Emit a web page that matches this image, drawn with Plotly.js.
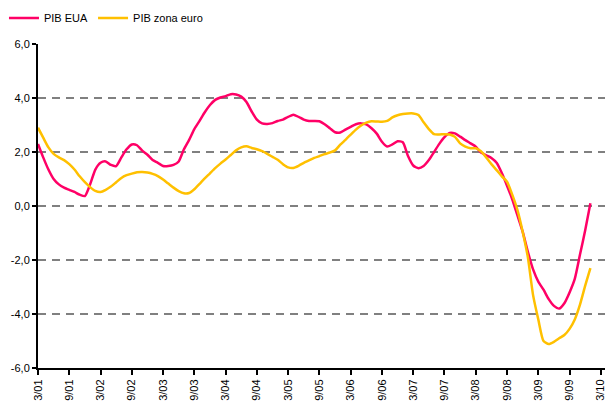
<!DOCTYPE html>
<html>
<head>
<meta charset="utf-8">
<script src="https://cdn.plot.ly/plotly-3.0.1.min.js"></script>
<style>html,body{margin:0;padding:0;background:#fff;}#chart{width:608px;height:405px;}</style>
</head>
<body>
<div id="chart"></div>
<script>
// Monthly observations, March 2001 to January 2010
var startYear = 2001, startMonth = 3;
var pibEUA = [
  2.3, 1.8, 1.35, 1.0, 0.8, 0.68, 0.6, 0.52, 0.42, 0.37, 0.8, 1.35,
  1.6, 1.65, 1.52, 1.48, 1.8, 2.1, 2.28, 2.25, 2.05, 1.9, 1.7, 1.6,
  1.48, 1.48, 1.52, 1.65, 2.1, 2.45, 2.85, 3.15, 3.47, 3.74, 3.93, 4.02,
  4.07, 4.14, 4.13, 4.05, 3.85, 3.5, 3.2, 3.06, 3.04, 3.07, 3.15, 3.2,
  3.3, 3.38, 3.3, 3.2, 3.15, 3.15, 3.14, 3.03, 2.88, 2.73, 2.72, 2.83,
  2.93, 3.03, 3.06, 3.02, 2.88, 2.68, 2.38, 2.2, 2.28, 2.4, 2.36, 1.85,
  1.5, 1.4, 1.48, 1.7, 2.0, 2.3, 2.55, 2.71, 2.69, 2.57, 2.44, 2.32,
  2.2, 1.98, 1.88, 1.78, 1.6, 1.22, 0.75, 0.25, -0.35, -0.95, -1.7, -2.35,
  -2.8, -3.1, -3.45, -3.7, -3.8, -3.6, -3.2, -2.7, -1.8, -0.9, 0.1
];
var pibZonaEuro = [
  2.9, 2.53, 2.17, 1.93, 1.8, 1.7, 1.55, 1.35, 1.1, 0.88, 0.7, 0.56,
  0.52, 0.6, 0.72, 0.88, 1.04, 1.14, 1.2, 1.25, 1.26, 1.24, 1.19, 1.11,
  0.98, 0.83, 0.68, 0.55, 0.47, 0.48, 0.62, 0.82, 1.02, 1.21, 1.4, 1.57,
  1.72, 1.89, 2.06, 2.17, 2.21, 2.15, 2.1, 2.03, 1.93, 1.82, 1.71, 1.55,
  1.43, 1.41, 1.49, 1.6, 1.69, 1.78, 1.85, 1.92, 1.98, 2.06, 2.27, 2.45,
  2.64, 2.83, 2.98, 3.09, 3.14, 3.13, 3.12, 3.15, 3.28, 3.36, 3.41, 3.43,
  3.43, 3.37, 3.1, 2.85, 2.66, 2.65, 2.66, 2.65, 2.56, 2.32, 2.2, 2.14,
  2.14, 2.03, 1.8, 1.55, 1.33, 1.1, 0.9, 0.42, -0.15, -0.95, -1.9, -3.3,
  -4.2, -5.0, -5.11, -5.03, -4.9, -4.78, -4.55, -4.2, -3.65, -2.95, -2.3
];
var xTickLabels = ['3/01','9/01','3/02','9/02','3/03','9/03','3/04','9/04','3/05','9/05',
  '3/06','9/06','3/07','9/07','3/08','9/08','3/09','9/09','3/10'];
var yTickVals = [-6, -4, -2, 0, 2, 4, 6];
var yTickLabels = ['-6,0', '-4,0', '-2,0', '0,0', '2,0', '4,0', '6,0'];

var monthIdx = pibEUA.map(function (_, i) { return i; });
var xTickVals = xTickLabels.map(function (_, i) { return i * 6; });

var font = {family: 'Liberation Sans, Arial, sans-serif', size: 11, color: '#000'};

var traces = [
  {x: monthIdx, y: pibEUA, name: 'PIB EUA', type: 'scatter', mode: 'lines',
   line: {color: '#FF0066', width: 2.5, shape: 'spline', smoothing: 0.6}},
  {x: monthIdx, y: pibZonaEuro, name: 'PIB zona euro', type: 'scatter', mode: 'lines',
   line: {color: '#FFC000', width: 2.5, shape: 'spline', smoothing: 0.6}}
];

var layout = {
  width: 608, height: 405,
  margin: {l: 38, r: 3, t: 44, b: 37, pad: 0},
  paper_bgcolor: '#fff', plot_bgcolor: '#fff',
  font: font,
  showlegend: true,
  legend: {orientation: 'h', x: -0.06, xanchor: 'left', y: 1.08, yanchor: 'middle',
           font: font, bgcolor: 'rgba(0,0,0,0)', traceorder: 'normal'},
  xaxis: {
    range: [0, 108.8], tickmode: 'array', tickvals: xTickVals, ticktext: xTickLabels,
    tickangle: -90, ticks: 'outside', ticklen: 5, tickwidth: 2, tickcolor: '#000',
    showline: true, linecolor: '#000', linewidth: 2, showgrid: false, zeroline: false,
    tickfont: font, fixedrange: true
  },
  yaxis: {
    range: [-6, 6], tickmode: 'array', tickvals: yTickVals, ticktext: yTickLabels,
    ticks: 'outside', ticklen: 4, tickwidth: 2, tickcolor: '#000',
    showline: true, linecolor: '#000', linewidth: 2,
    showgrid: true, gridcolor: '#808080', gridwidth: 1.5, griddash: '8px,6px',
    zeroline: false, tickfont: font, fixedrange: true
  }
};

Plotly.newPlot('chart', traces, layout, {displayModeBar: false, staticPlot: true});
</script>
</body>
</html>
